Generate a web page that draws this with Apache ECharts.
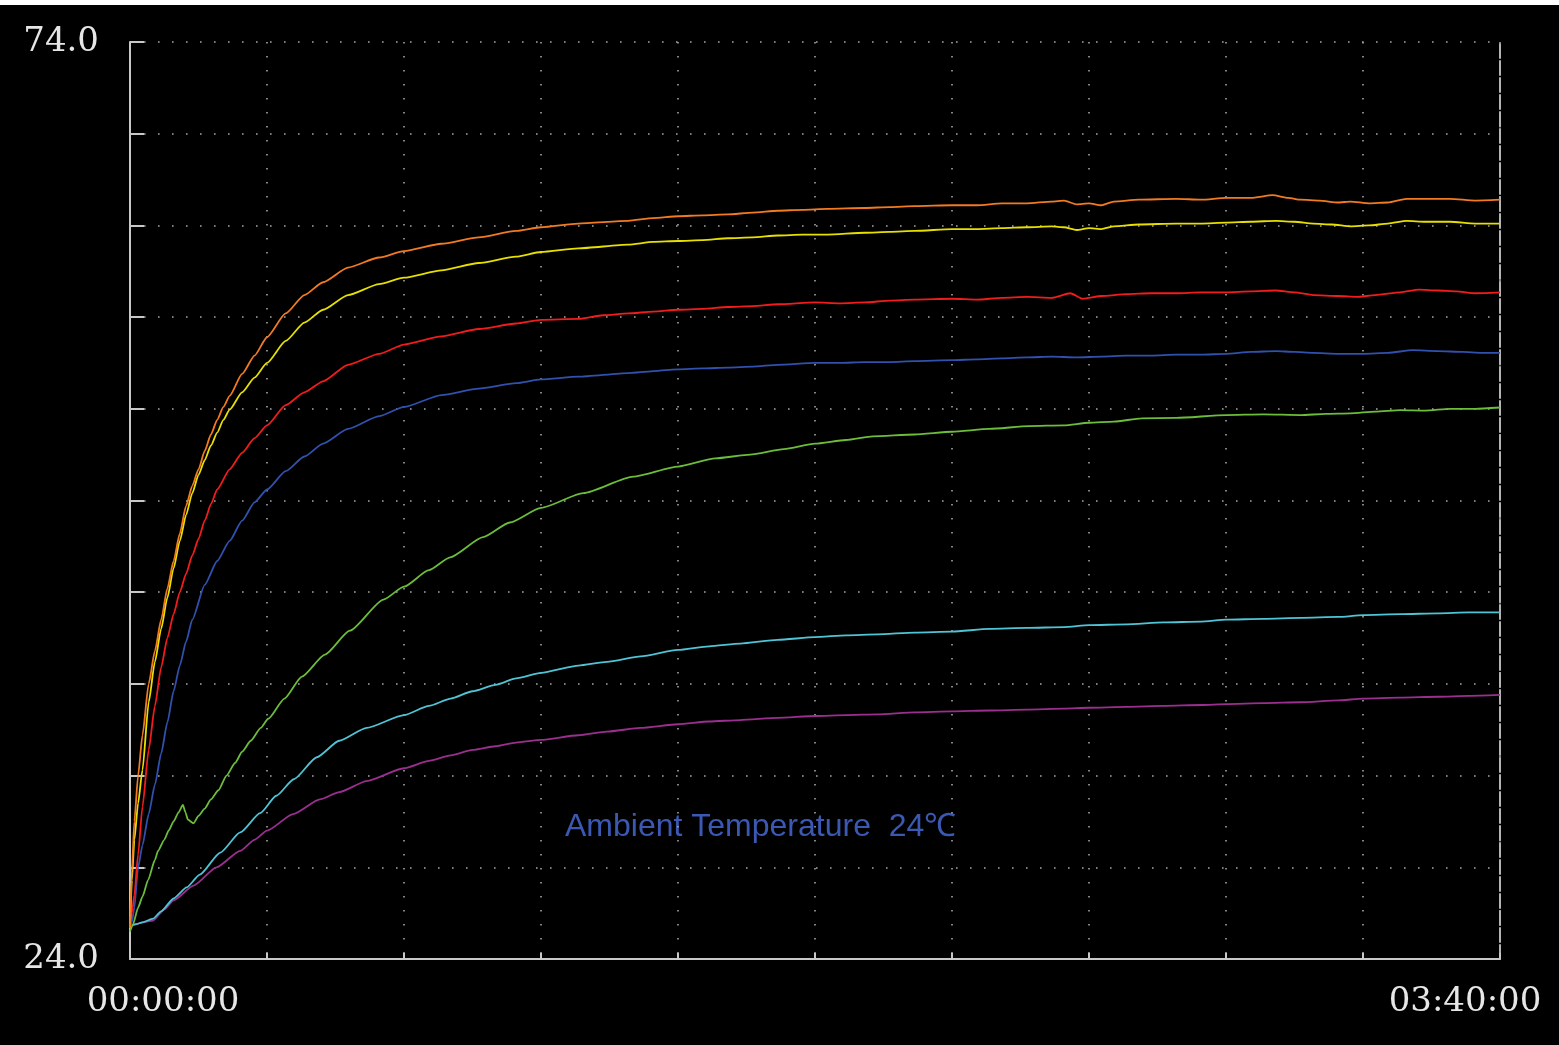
<!DOCTYPE html>
<html>
<head>
<meta charset="utf-8">
<script src="https://cdn.jsdelivr.net/npm/echarts@6/dist/echarts.min.js"></script>
<style>
  html, body { margin: 0; padding: 0; background: #ffffff; width: 1559px; height: 1045px; overflow: hidden; }
  #chart { position: absolute; left: 0; top: 5px; width: 1559px; height: 1040px; background: #000000; }
</style>
</head>
<body>
<div id="chart"></div>
<script>
// x = elapsed minutes (0 .. 220 = 03:40:00), y = temperature (°C)
const xMin = 0, xMax = 220, xStep = 22;
const yMin = 24, yMax = 74, yStep = 5;
const xTickLabels = ['00:00:00', '03:40:00'];
const yTickLabels = ['24.0', '74.0'];
const note = 'Ambient Temperature  24℃';

const seriesNames = ['orange', 'yellow', 'red', 'blue', 'green', 'cyan', 'purple'];
const seriesColors = ['#f27b22', '#e6df00', '#f21c1c', '#3051ad', '#6cbd3a', '#4fc4d6', '#9b2f90'];

const orange = [[0,25.7],[0.3,28.8],[0.7,31.5],[1.3,34.0],[2,36.2],[3,39.0],[4,40.8],[5,42.5],[6,44.2],[7,45.7],[8,47.2],[9,48.7],[10,49.8],[11,50.7],[12,51.7],[13,52.6],[14,53.4],[15,54.1],[16,54.7],[18,55.9],[20,56.9],[22,57.9],[25,59.2],[28,60.2],[31,60.9],[35,61.7],[40,62.25],[44,62.6],[50,63.0],[56,63.35],[62,63.7],[66,63.9],[72,64.1],[80,64.25],[84,64.4],[88,64.5],[92,64.55],[96,64.6],[100,64.7],[104,64.8],[108,64.85],[112,64.9],[118,64.95],[122,65.0],[126,65.05],[132,65.1],[136,65.1],[140,65.2],[144,65.2],[148,65.3],[150,65.35],[152,65.15],[154,65.2],[156,65.1],[158,65.3],[162,65.4],[168,65.45],[172,65.4],[176,65.5],[180,65.5],[183.5,65.65],[186,65.5],[188,65.4],[191,65.35],[194,65.25],[196,65.3],[199,65.2],[202,65.25],[205,65.45],[208,65.45],[212,65.45],[216,65.35],[220,65.4]];
const yellow = [[0,25.7],[0.3,28.3],[0.7,30.5],[1.3,32.5],[2,34.3],[3,38.0],[4,40.2],[5,42.0],[6,43.7],[7,45.3],[8,46.8],[9,48.2],[10,49.4],[11,50.4],[12,51.2],[13,52.0],[14,52.7],[15,53.4],[16,53.95],[18,54.9],[20,55.7],[22,56.5],[25,57.7],[28,58.7],[31,59.4],[35,60.2],[40,60.8],[44,61.15],[50,61.55],[56,61.95],[62,62.3],[66,62.55],[72,62.75],[80,62.95],[84,63.1],[88,63.15],[92,63.2],[96,63.3],[100,63.35],[104,63.45],[108,63.5],[112,63.5],[118,63.6],[122,63.65],[126,63.7],[132,63.8],[136,63.8],[140,63.85],[144,63.9],[148,63.95],[150,63.9],[152,63.75],[154,63.85],[156,63.8],[158,63.95],[162,64.05],[168,64.1],[172,64.1],[176,64.15],[180,64.2],[184,64.25],[187,64.2],[190,64.1],[193,64.05],[196,63.95],[199,64.0],[202,64.1],[205,64.25],[208,64.2],[212,64.2],[216,64.1],[220,64.1]];
const red = [[0,25.7],[0.3,26.5],[0.7,27.5],[1.3,29.7],[2,32.3],[3,35.4],[4,37.8],[5,39.9],[6,41.5],[7,42.8],[8,44.0],[9,45.0],[10,46.0],[11,46.9],[12,47.9],[13,48.8],[14,49.6],[16,50.7],[18,51.6],[20,52.4],[22,53.1],[25,54.2],[28,54.9],[31,55.5],[35,56.4],[40,57.0],[44,57.5],[50,57.95],[56,58.35],[62,58.65],[66,58.85],[72,58.9],[76,59.1],[80,59.2],[84,59.3],[88,59.4],[92,59.45],[96,59.55],[100,59.6],[104,59.7],[110,59.8],[114,59.75],[118,59.8],[122,59.9],[126,59.95],[132,60.0],[136,59.95],[140,60.05],[144,60.1],[148,60.05],[151,60.3],[153,60.0],[156,60.15],[160,60.25],[164,60.3],[168,60.3],[172,60.35],[176,60.35],[180,60.4],[184,60.45],[187,60.35],[190,60.2],[194,60.15],[197,60.1],[200,60.2],[204,60.35],[207,60.5],[210,60.45],[213,60.4],[216,60.3],[220,60.35]];
const blue = [[0,25.7],[0.3,26.0],[0.7,26.8],[1.3,29.0],[2,30.2],[3,31.9],[4,33.5],[5,35.2],[6,36.9],[7,38.6],[8,40.0],[9,41.3],[10,42.5],[12,44.4],[14,45.7],[16,46.8],[18,47.9],[20,48.9],[22,49.6],[25,50.6],[28,51.4],[31,52.1],[35,52.9],[40,53.6],[44,54.1],[50,54.75],[56,55.1],[62,55.4],[66,55.6],[72,55.75],[80,55.95],[88,56.15],[92,56.2],[96,56.25],[100,56.3],[104,56.4],[110,56.5],[114,56.5],[118,56.55],[122,56.55],[126,56.6],[132,56.65],[136,56.7],[140,56.75],[144,56.8],[148,56.85],[152,56.8],[156,56.85],[160,56.9],[164,56.9],[168,56.95],[172,56.95],[176,57.0],[180,57.1],[184,57.15],[187,57.1],[190,57.05],[194,57.0],[198,57.0],[202,57.05],[206,57.2],[210,57.15],[214,57.1],[217,57.05],[220,57.05]];
const green = [[0,25.5],[0.5,25.9],[1.3,26.8],[2,27.4],[2.9,28.3],[4,29.4],[4.5,29.9],[5.5,30.5],[6.2,31.0],[7,31.5],[7.8,32.0],[8.5,32.4],[8.9,32.0],[9.3,31.6],[10.2,31.4],[11,31.8],[12,32.2],[13,32.7],[14.2,33.2],[15.5,34.0],[16.9,34.7],[18,35.3],[19.4,35.9],[21,36.6],[22.2,37.1],[24.8,38.2],[27.6,39.4],[31.3,40.6],[35.3,41.9],[40.7,43.6],[44,44.3],[48,45.2],[51.4,45.9],[56.7,47.0],[61,47.8],[66,48.6],[72.8,49.4],[80.8,50.3],[88,50.85],[94,51.3],[99.6,51.5],[105,51.8],[110,52.1],[115,52.3],[119.3,52.5],[126,52.6],[132,52.75],[138,52.9],[144.4,53.06],[150,53.1],[154,53.24],[158,53.3],[162.4,53.48],[168,53.5],[176,53.66],[182,53.7],[188,53.66],[192,53.72],[196,53.75],[200,53.85],[204,53.93],[208,53.9],[212,54.0],[216,54.0],[220,54.07]];
const cyan = [[0,25.8],[1,25.9],[2,26.0],[3.7,26.2],[5,26.6],[7,27.3],[9.1,27.9],[11.2,28.6],[14.5,29.8],[17.7,30.9],[20.9,31.95],[23.5,32.9],[26.3,33.8],[30,35.0],[33.6,35.9],[38,36.6],[44,37.3],[48,37.8],[51.5,38.2],[55,38.6],[58.7,38.95],[62,39.3],[66,39.6],[72,40.0],[76.6,40.2],[82,40.5],[88,40.85],[93,41.05],[98,41.2],[104,41.4],[110,41.55],[115,41.65],[120,41.7],[126,41.8],[132,41.85],[138,42.0],[144,42.05],[150,42.1],[154,42.2],[160,42.25],[166,42.35],[172,42.4],[176,42.5],[182,42.55],[188,42.6],[194,42.65],[198,42.75],[204,42.8],[210,42.85],[215,42.9],[220,42.9]];
const purple = [[0,25.8],[1,25.9],[2,26.0],[3.7,26.1],[5.5,26.7],[7,27.2],[10.2,28.0],[13.9,29.0],[17.7,29.9],[20,30.5],[22,31.0],[26.2,31.9],[30.5,32.7],[33.6,33.1],[38,33.7],[44,34.4],[48,34.8],[51.5,35.1],[55,35.4],[58.7,35.6],[62,35.8],[66,35.95],[72,36.2],[76.6,36.4],[82,36.6],[88,36.8],[93,36.95],[98,37.03],[104,37.15],[110,37.25],[115,37.3],[120,37.34],[126,37.45],[132,37.5],[138,37.55],[144,37.6],[150,37.65],[154,37.7],[160,37.75],[166,37.8],[172,37.85],[176,37.9],[182,37.95],[188,38.0],[194,38.1],[198,38.2],[204,38.25],[210,38.3],[215,38.35],[220,38.4]];

const seriesData = [orange, yellow, red, blue, green, cyan, purple];

const axisColor = '#c8c8c8';
const gridDots = { color: '#a6a6a6', width: 1.6, type: [1.6, 12.4] };
const labelFont = 'DejaVu Serif';

const chart = echarts.init(document.getElementById('chart'), null, { renderer: 'canvas' });
chart.setOption({
  backgroundColor: '#000000',
  animation: false,
  grid: { left: 130, right: 59, top: 37, bottom: 86, containLabel: false, outerBoundsMode: 'none' },
  xAxis: {
    type: 'value', min: xMin, max: xMax, interval: xStep,
    axisLine: { show: true, lineStyle: { color: axisColor, width: 2 } },
    axisTick: { show: true, inside: true, length: 6, lineStyle: { color: axisColor, width: 2 } },
    splitLine: { show: true, lineStyle: gridDots },
    axisLabel: {
      show: true, margin: 26, color: '#e6e6e6', fontFamily: labelFont, fontSize: 34, lineHeight: 34,
      formatter: v => v === xMin ? '{a|' + xTickLabels[0] + '}' : (v === xMax ? '{b|' + xTickLabels[1] + '}' : ''),
      rich: {
        a: { color: '#e6e6e6', fontFamily: labelFont, fontSize: 34, lineHeight: 34, padding: [0, 0, 0, 66] },
        b: { color: '#e6e6e6', fontFamily: labelFont, fontSize: 34, lineHeight: 34, padding: [0, 70, 0, 0] }
      }
    }
  },
  yAxis: [{
    type: 'value', min: yMin, max: yMax, interval: yStep,
    axisLine: { show: true, lineStyle: { color: axisColor, width: 2 } },
    axisTick: { show: true, inside: true, length: 14, lineStyle: { color: axisColor, width: 2 } },
    splitLine: { show: true, lineStyle: gridDots },
    axisLabel: {
      show: true, margin: 31, color: '#e6e6e6', fontFamily: labelFont, fontSize: 34,
      formatter: v => v === yMin ? yTickLabels[0] : (v === yMax ? yTickLabels[1] : '')
    }
  }, {
    type: 'value', min: yMin, max: yMax, interval: yStep, position: 'right',
    axisLine: { show: true, onZero: false, lineStyle: { color: '#b4b4b4', width: 2, type: [14, 3] } },
    axisTick: { show: false }, axisLabel: { show: false }, splitLine: { show: false }
  }],
  graphic: [{
    type: 'text', left: 565, top: 806,
    style: { text: note, fill: '#3b58b2', font: '32px "Liberation Sans", Arial, sans-serif' }
  }],
  series: seriesData.map((d, i) => ({
    name: seriesNames[i], type: 'line', data: d, showSymbol: false, symbol: 'none',
    lineStyle: { color: seriesColors[i], width: 1.8 }, itemStyle: { color: seriesColors[i] },
    smooth: 0.2, smoothMonotone: 'x', z: 10 - i
  }))
});
</script>
</body>
</html>
